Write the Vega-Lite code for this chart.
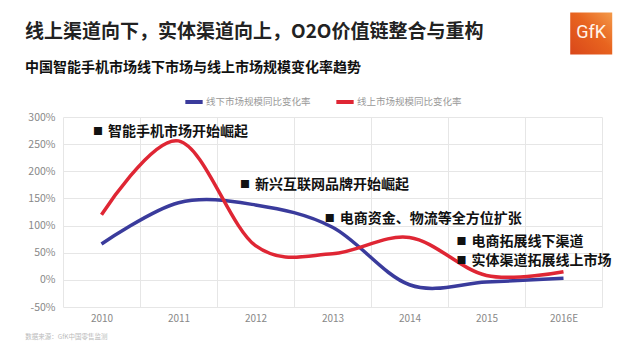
{
  "$schema": "https://vega.github.io/schema/vega-lite/v6.json",
  "width": 539,
  "height": 190,
  "autosize": {"type": "none"},
  "padding": {"left": 63, "top": 117, "right": 36, "bottom": 57},
  "background": "white",
  "config": {
    "font": "Noto Sans CJK SC",
    "view": {"stroke": null}
  },
  "title": {
    "text": "线上渠道向下，实体渠道向上，O2O价值链整合与重构",
    "subtitle": "中国智能手机市场线下市场与线上市场规模变化率趋势",
    "anchor": "start",
    "frame": "group",
    "dx": -38,
    "offset": -63,
    "fontSize": 19,
    "fontWeight": "bold",
    "color": "#222222",
    "subtitleFontSize": 14,
    "subtitleFontWeight": "bold",
    "subtitleColor": "#111111",
    "subtitlePadding": 19
  },
  "datasets": {
    "series": [
      {"year": "2010", "series": "线下市场规模同比变化率", "value": 66},
      {"year": "2011", "series": "线下市场规模同比变化率", "value": 142},
      {"year": "2012", "series": "线下市场规模同比变化率", "value": 138},
      {"year": "2013", "series": "线下市场规模同比变化率", "value": 97},
      {"year": "2014", "series": "线下市场规模同比变化率", "value": -9},
      {"year": "2015", "series": "线下市场规模同比变化率", "value": -4},
      {"year": "2016E", "series": "线下市场规模同比变化率", "value": 3},
      {"year": "2010", "series": "线上市场规模同比变化率", "value": 120},
      {"year": "2011", "series": "线上市场规模同比变化率", "value": 256},
      {"year": "2012", "series": "线上市场规模同比变化率", "value": 63},
      {"year": "2013", "series": "线上市场规模同比变化率", "value": 48},
      {"year": "2014", "series": "线上市场规模同比变化率", "value": 78},
      {"year": "2015", "series": "线上市场规模同比变化率", "value": 8},
      {"year": "2016E", "series": "线上市场规模同比变化率", "value": 15}
    ],
    "notes": [
      {"ax": 0.39, "ay": 273, "label": "智能手机市场开始崛起"},
      {"ax": 2.30, "ay": 174, "label": "新兴互联网品牌开始崛起"},
      {"ax": 3.40, "ay": 113, "label": "电商资金、物流等全方位扩张"},
      {"ax": 5.11, "ay": 69, "label": "电商拓展线下渠道"},
      {"ax": 5.11, "ay": 35, "label": "实体渠道拓展线上市场"}
    ]
  },
  "layer": [
    {
      "data": {"name": "series"},
      "mark": {"type": "line", "interpolate": "cardinal", "strokeWidth": 3.5},
      "encoding": {
        "x": {
          "field": "year", "type": "nominal",
          "scale": {"type": "band", "paddingInner": 0, "paddingOuter": 0},
          "axis": {"title": null, "labelAngle": 0, "tickBand": "extent", "grid": true, "gridColor": "#e6e6e6", "domain": false, "ticks": false, "labelColor": "#888888", "labelFontSize": 10, "labelPadding": 6}
        },
        "y": {
          "field": "value", "type": "quantitative",
          "scale": {"domain": [-50, 300], "nice": false, "zero": false},
          "axis": {"title": null, "values": [-50, 0, 50, 100, 150, 200, 250, 300], "labelExpr": "datum.value + '%'", "labelOverlap": false, "labelFlush": false, "grid": true, "gridColor": "#e6e6e6", "domain": false, "ticks": false, "labelColor": "#888888", "labelFontSize": 10.5, "labelPadding": 8}
        },
        "color": {
          "field": "series", "type": "nominal",
          "scale": {"domain": ["线下市场规模同比变化率", "线上市场规模同比变化率"], "range": ["#3a3b9c", "#df2634"]},
          "legend": {"title": null, "orient": "none", "legendX": 120, "legendY": -26, "direction": "horizontal", "symbolType": "stroke", "symbolStrokeWidth": 4, "symbolSize": 300, "labelFontSize": 9.5, "labelColor": "#999999", "columnPadding": 17, "labelOffset": 1}
        }
      }
    },
    {
      "data": {"name": "notes"},
      "mark": {"type": "text", "align": "left", "baseline": "middle", "fontSize": 10, "color": "#111111"},
      "encoding": {
        "x": {"field": "ax", "type": "quantitative", "scale": {"domain": [0, 7], "nice": false, "zero": false}, "axis": null},
        "y": {"field": "ay", "type": "quantitative", "scale": {"domain": [-50, 300], "nice": false, "zero": false}, "axis": null},
        "text": {"value": "■"}
      }
    },
    {
      "data": {"name": "notes"},
      "mark": {"type": "text", "align": "left", "baseline": "middle", "dx": 15, "fontSize": 14, "fontWeight": "bold", "color": "#111111"},
      "encoding": {
        "x": {"field": "ax", "type": "quantitative", "scale": {"domain": [0, 7], "nice": false, "zero": false}, "axis": null},
        "y": {"field": "ay", "type": "quantitative", "scale": {"domain": [-50, 300], "nice": false, "zero": false}, "axis": null},
        "text": {"field": "label"}
      }
    },
    {
      "data": {"values": [{"ax": 6.86, "ay": 454}]},
      "mark": {
        "type": "square", "filled": true, "size": 1764, "opacity": 1,
        "color": {"gradient": "linear", "x1": 1, "y1": 0, "x2": 0, "y2": 1, "stops": [{"offset": 0, "color": "#f39a4a"}, {"offset": 0.45, "color": "#e8641f"}, {"offset": 1, "color": "#d9471a"}]}
      },
      "encoding": {
        "x": {"field": "ax", "type": "quantitative", "scale": {"domain": [0, 7], "nice": false, "zero": false}, "axis": null},
        "y": {"field": "ay", "type": "quantitative", "scale": {"domain": [-50, 300], "nice": false, "zero": false}, "axis": null}
      }
    },
    {
      "data": {"values": [{"ax": 6.86, "ay": 454, "label": "GfK"}]},
      "mark": {"type": "text", "align": "center", "baseline": "middle", "fontSize": 18, "font": "Roboto", "color": "#fff4ea"},
      "encoding": {
        "x": {"field": "ax", "type": "quantitative", "scale": {"domain": [0, 7], "nice": false, "zero": false}, "axis": null},
        "y": {"field": "ay", "type": "quantitative", "scale": {"domain": [-50, 300], "nice": false, "zero": false}, "axis": null},
        "text": {"field": "label"}
      }
    },
    {
      "data": {"values": [{"ax": -0.49, "ay": -106, "label": "数据来源：GfK中国零售监测"}]},
      "mark": {"type": "text", "align": "left", "baseline": "middle", "fontSize": 6.5, "color": "#bbbbbb"},
      "encoding": {
        "x": {"field": "ax", "type": "quantitative", "scale": {"domain": [0, 7], "nice": false, "zero": false}, "axis": null},
        "y": {"field": "ay", "type": "quantitative", "scale": {"domain": [-50, 300], "nice": false, "zero": false}, "axis": null},
        "text": {"field": "label"}
      }
    }
  ],
  "resolve": {"scale": {"x": "independent", "y": "independent"}}
}
